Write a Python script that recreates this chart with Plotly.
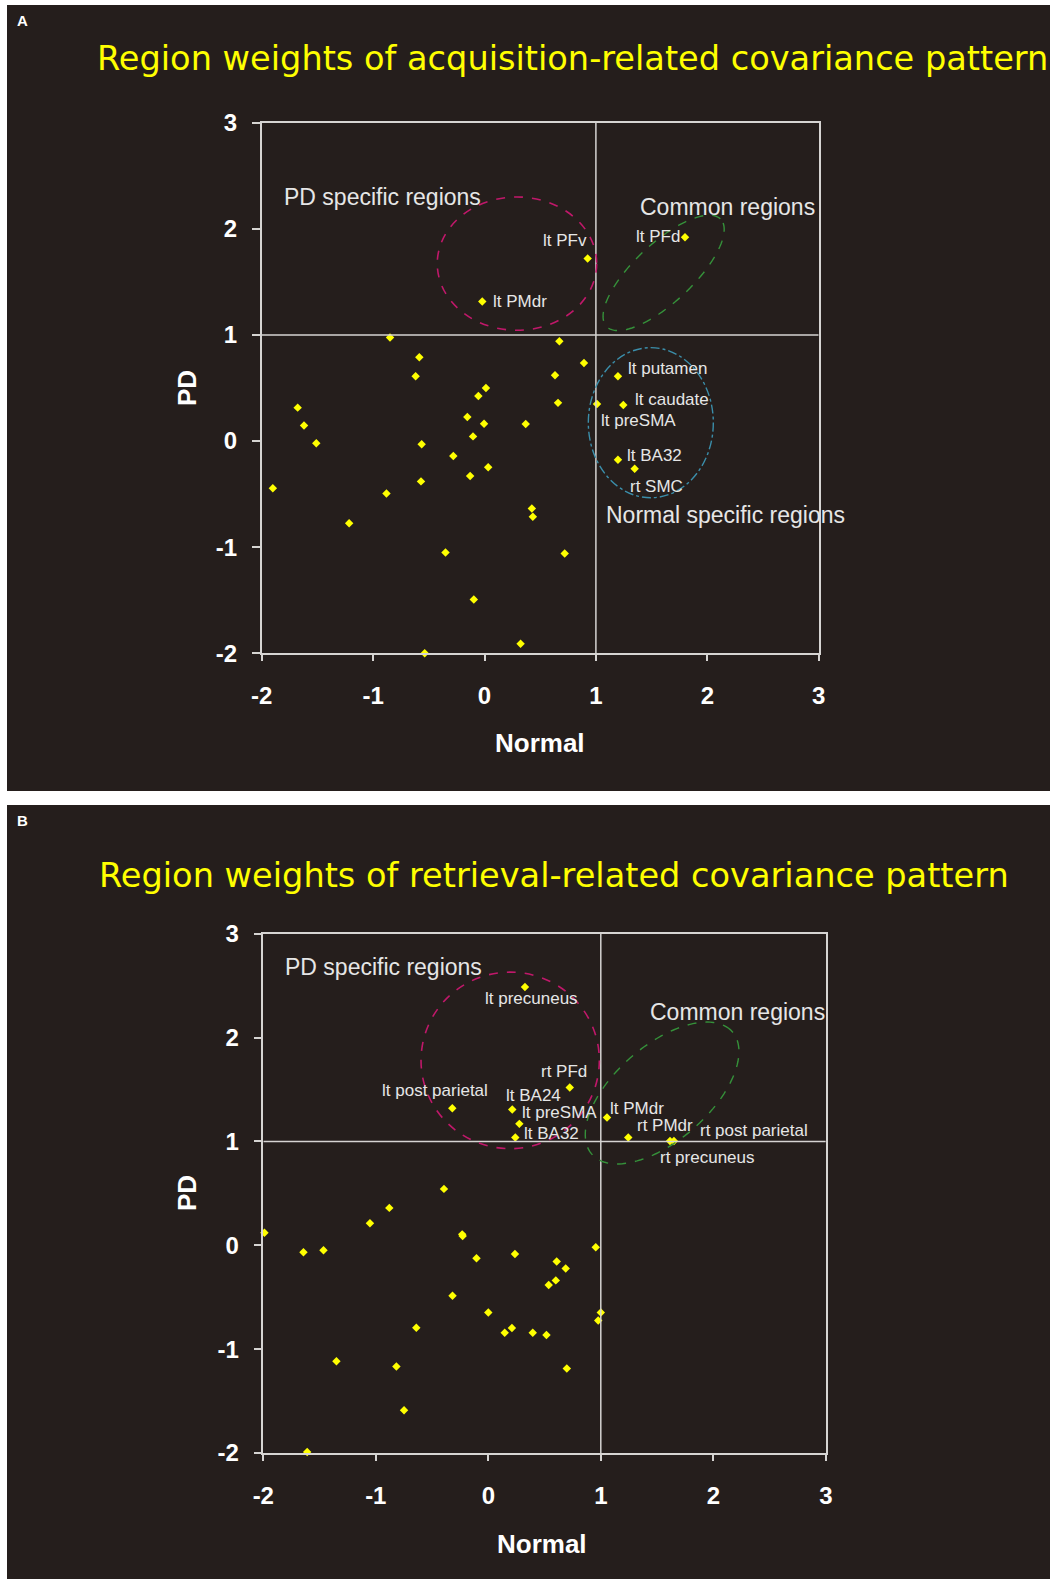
import numpy as np
import plotly.graph_objects as go

# figure is drawn at the page's top-left corner
PAGE_W, PAGE_H = 1050, 1581
W, H = 1050, 1579

# ---------------- data ----------------
tick_vals = [-2, -1, 0, 1, 2, 3]
tick_text = ["-2", "-1", "0", "1", "2", "3"]

a_title = "Region weights of acquisition-related covariance pattern"
b_title = "Region weights of retrieval-related covariance pattern"

a_named = ["lt PFv", "lt PMdr", "lt PFd", "lt putamen", "lt caudate", "lt preSMA", "lt BA32", "rt SMC"]
a_named_x = [0.926, -0.02, 1.80, 1.198, 1.246, 1.01, 1.198, 1.348]
a_named_y = [1.72, 1.315, 1.92, 0.61, 0.34, 0.35, -0.176, -0.26]

a_other_x = [-0.848, -0.585, -0.618, 0.672, 0.893, 0.633, 0.66, -1.677, -1.62, -1.51, 0.013,
             -0.055, -0.154, -0.004, -0.103, 0.37, -0.564, -0.28, 0.033, -0.129, -0.57, -1.90,
             -0.88, -1.215, 0.425, 0.434, -0.35, 0.72, -0.096, 0.324, -0.537]
a_other_y = [0.975, 0.79, 0.61, 0.94, 0.736, 0.62, 0.36, 0.315, 0.146, -0.02, 0.5,
             0.425, 0.226, 0.164, 0.044, 0.16, -0.03, -0.14, -0.247, -0.33, -0.38, -0.445,
             -0.495, -0.775, -0.635, -0.714, -1.05, -1.06, -1.494, -1.91, -2.0]

b_named = ["lt precuneus", "rt PFd", "lt post parietal", "lt BA24", "lt preSMA", "lt BA32",
           "lt PMdr", "rt PMdr", "rt post parietal", "rt precuneus"]
b_named_x = [0.326, 0.724, -0.32, 0.213, 0.276, 0.24, 1.055, 1.244, 1.65, 1.615]
b_named_y = [2.486, 1.519, 1.32, 1.307, 1.169, 1.037, 1.23, 1.037, 1.005, 1.005]

b_other_x = [-0.394, -0.88, -1.052, -1.99, -0.232, -0.228, -1.643, -1.465, -0.105, 0.237,
             0.955, 0.608, 0.688, 0.6, 0.537, -0.318, 0.0, 1.0, 0.977, -0.64, 0.146, 0.21,
             0.395, 0.517, -1.35, -0.817, 0.698, -0.749, -1.61]
b_other_y = [0.543, 0.36, 0.212, 0.12, 0.105, 0.089, -0.067, -0.048, -0.124, -0.083,
             -0.019, -0.156, -0.223, -0.338, -0.383, -0.485, -0.648, -0.648, -0.724, -0.794,
             -0.842, -0.797, -0.842, -0.864, -1.117, -1.167, -1.186, -1.588, -1.99]

# region group labels (text, x, y)
a_groups = [("PD specific regions", -0.92, 2.30), ("Common regions", 2.18, 2.21),
            ("Normal specific regions", 2.16, -0.70)]
b_groups = [("PD specific regions", -0.933, 2.68), ("Common regions", 2.215, 2.25)]

# ---------------- styles ----------------
BG = "#251e1c"
LINE = "#d6d4d2"
YELLOW = "#ffff00"
TXT = "#e6e6e6"

a_label_shift = [(-23, 18), (38, 0), (-27, 1), (50, 8), (49, 5), (41, -17), (37, 4), (22, -18)]
b_label_shift = [(7, -11), (-6, 16), (-17, 18), (21, 14), (40, 11), (36, 4), (30, 9), (37, 12),
                 (80, 10), (38, -17)]


def px(X):
    return X / W


def py(Y):
    return 1 - Y / H


fig = go.Figure()

for xs, ys, ax in [(a_other_x + a_named_x, a_other_y + a_named_y, "x"),
                   (b_other_x + b_named_x, b_other_y + b_named_y, "x2")]:
    fig.add_trace(go.Scatter(
        x=xs, y=ys, mode="markers", xaxis=ax, yaxis=ax.replace("x", "y"),
        marker=dict(symbol="diamond", size=6.5, color=YELLOW, line=dict(width=0)),
        cliponaxis=False, hoverinfo="skip", showlegend=False))

shapes = []
annotations = []

# panel backgrounds
shapes.append(dict(type="rect", xref="paper", yref="paper", x0=px(7), x1=px(PAGE_W + 10),
                   y0=py(5), y1=py(791), fillcolor=BG, line=dict(width=0), layer="below"))
shapes.append(dict(type="rect", xref="paper", yref="paper", x0=px(7), x1=px(PAGE_W + 10),
                   y0=py(805), y1=py(PAGE_H + 10), fillcolor=BG, line=dict(width=0), layer="below"))

for xr, yr in [("x", "y"), ("x2", "y2")]:
    shapes.append(dict(type="line", xref=xr, yref=yr, x0=1, x1=1, y0=-2, y1=3,
                       line=dict(color=LINE, width=1.5)))
    shapes.append(dict(type="line", xref=xr, yref=yr, x0=-2, x1=3, y0=1, y1=1,
                       line=dict(color=LINE, width=1.5)))


def ellipse_path(cx, cy, a, b, theta_deg, n=120):
    t = np.linspace(0, 2 * np.pi, n)
    th = np.deg2rad(theta_deg)
    xs = cx + a * np.cos(t) * np.cos(th) - b * np.sin(t) * np.sin(th)
    ys = cy + a * np.cos(t) * np.sin(th) + b * np.sin(t) * np.cos(th)
    return "M " + " L ".join(f"{x:.4f},{y:.4f}" for x, y in zip(xs, ys)) + " Z"


MAG = "#c0186a"
GRN = "#35913a"
CYN = "#3b8eaa"
# panel A ellipses
shapes.append(dict(type="circle", xref="x", yref="y", x0=-0.424, x1=1.007, y0=1.044, y1=2.30,
                   line=dict(color=MAG, width=1.6, dash="dash")))
shapes.append(dict(type="path", xref="x", yref="y", path=ellipse_path(1.608, 1.585, 0.72, 0.27, 45),
                   line=dict(color=GRN, width=1.4, dash="dash")))
shapes.append(dict(type="circle", xref="x", yref="y", x0=0.932, x1=2.054, y0=-0.534, y1=0.88,
                   line=dict(color=CYN, width=1.4, dash="dashdot")))
# panel B ellipses
shapes.append(dict(type="circle", xref="x2", yref="y2", x0=-0.598, x1=0.987, y0=0.93, y1=2.63,
                   line=dict(color=MAG, width=1.6, dash="dash")))
shapes.append(dict(type="path", xref="x2", yref="y2", path=ellipse_path(1.545, 1.466, 0.86, 0.44, 45),
                   line=dict(color=GRN, width=1.4, dash="dash")))

LBL_FONT = dict(family="Liberation Sans, Arial, sans-serif", size=17, color=TXT)
GRP_FONT = dict(family="Liberation Sans, Arial, sans-serif", size=23, color=TXT)

for names, xs, ys, shifts, xr, yr in [(a_named, a_named_x, a_named_y, a_label_shift, "x", "y"),
                                      (b_named, b_named_x, b_named_y, b_label_shift, "x2", "y2")]:
    for n, x, y, (dx, dy) in zip(names, xs, ys, shifts):
        annotations.append(dict(text=n, x=x, y=y, xref=xr, yref=yr, showarrow=False,
                                xanchor="center", yanchor="middle",
                                xshift=dx, yshift=dy, font=LBL_FONT))

for groups, xr, yr in [(a_groups, "x", "y"), (b_groups, "x2", "y2")]:
    for t, x, y in groups:
        annotations.append(dict(text=t, x=x, y=y, xref=xr, yref=yr, showarrow=False,
                                xanchor="center", yanchor="middle", font=GRP_FONT))

TITLE_FONT = dict(family="DejaVu Sans, sans-serif", size=33.6, color=YELLOW)
annotations.append(dict(text=a_title, x=px(95), y=py(58), xref="paper", yref="paper",
                        xanchor="left", yanchor="middle", showarrow=False, font=TITLE_FONT))
annotations.append(dict(text=b_title, x=px(97), y=py(875), xref="paper", yref="paper",
                        xanchor="left", yanchor="middle", showarrow=False, font=TITLE_FONT))

BOLD = dict(family="Liberation Sans, Arial, sans-serif", size=26, color="white", weight="bold")
for t, X, Y in [("A", 22, 20), ("B", 22, 820)]:
    annotations.append(dict(text=t, x=px(X), y=py(Y), xref="paper", yref="paper", showarrow=False,
                            xanchor="center", yanchor="middle",
                            font=dict(family="Liberation Sans, Arial, sans-serif", size=15,
                                      color="white", weight="bold")))
for X, Y in [(540, 743), (542, 1544)]:
    annotations.append(dict(text="Normal", x=px(X), y=py(Y), xref="paper", yref="paper",
                            xanchor="center", yanchor="middle", showarrow=False, font=BOLD))
for X, Y in [(187, 388), (187, 1193)]:
    annotations.append(dict(text="PD", x=px(X), y=py(Y), xref="paper", yref="paper",
                            xanchor="center", yanchor="middle",
                            showarrow=False, textangle=-90, font=BOLD))

TICKFONT = dict(family="Liberation Sans, Arial, sans-serif", size=24, color="white", weight="bold")


def xaxis_cfg(dom, anchor):
    return dict(domain=dom, anchor=anchor, range=[-2, 3], tickvals=tick_vals, ticktext=tick_text,
                showgrid=False, zeroline=False, showline=True, linecolor=LINE, linewidth=1.5,
                mirror=True, ticks="outside", ticklen=6, tickwidth=1.5, tickcolor=LINE,
                tickfont=TICKFONT, ticklabelstandoff=14, automargin=False)


def yaxis_cfg(dom, anchor):
    return dict(domain=dom, anchor=anchor, range=[-2, 3], tickvals=tick_vals, ticktext=tick_text,
                showgrid=False, zeroline=False, showline=True, linecolor=LINE, linewidth=1.5,
                mirror=True, ticks="outside", ticklen=8, tickwidth=1.5, tickcolor=LINE,
                tickfont=TICKFONT, ticklabelstandoff=10, automargin=False)


fig.update_layout(
    width=W, height=H, margin=dict(l=0, r=0, t=0, b=0, autoexpand=False),
    paper_bgcolor="white", plot_bgcolor="rgba(0,0,0,0)",
    xaxis=xaxis_cfg([px(261.7), px(818.7)], "y"),
    yaxis=yaxis_cfg([py(653.3), py(122.7)], "x"),
    xaxis2=xaxis_cfg([px(263.3), px(825.8)], "y2"),
    yaxis2=yaxis_cfg([py(1453), py(933.7)], "x2"),
    shapes=shapes, annotations=annotations, showlegend=False,
)

fig.write_html("out.html")
